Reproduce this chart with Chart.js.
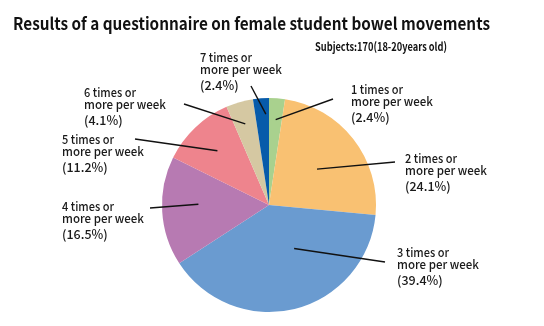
<!DOCTYPE html>
<html>
<head>
<meta charset="utf-8">
<script src="https://cdn.jsdelivr.net/npm/chart.js@4/dist/chart.umd.min.js"></script>
<style>
html,body{margin:0;padding:0;background:#fff;}
#wrap{width:544px;height:326px;position:relative;}
</style>
</head>
<body>
<div id="wrap"><canvas id="pie"></canvas></div>
<script>
// answer groups, clockwise from 12 o'clock
const categories = ['1 times or', '2 times or', '3 times or', '4 times or', '5 times or', '6 times or', '7 times or'];
const shares = [2.4, 24.1, 39.4, 16.5, 11.2, 4.1, 2.4];
const colors = ['#a9d18e', '#f9c172', '#6a9bd0', '#b77ab2', '#ee848d', '#d5c8a2', '#075baa'];

const titleText = 'Results of a questionnaire on female student bowel movements';
const subText = 'Subjects:170(18-20years old)';

// label block (left x, first line centre y)
const labelPos = [[351,89],[405,158],[397,252],[62,206],[62,139],[84,92],[200,57]];
// leader: inner end as [fraction across slice, fraction of radius], outer end in px
const leaderIn = [[0.52,0.80],[0.515,0.56],[0.386,0.47],[0.566,0.66],[0.5,0.70],[0.48,0.79],[0.77,0.85]];
const leaderOut = [[333,99],[395,162],[385,262],[150,208],[135,139],[184,104],[251,86]];

const FONT = '"Noto Sans CJK JP","Noto Sans",sans-serif';

// squeeze a line of text into a given width
function fitText(ctx, txt, x, y, w){
  const m = ctx.measureText(txt).width;
  if (m <= w) { ctx.fillText(txt, x, y); return; }
  ctx.fillText(txt, x, y, w);
}

const labelsPlugin = {
  id:'pieLabels',
  afterDraw(chart){
    const ctx = chart.ctx;
    const arcs = chart.getDatasetMeta(0).data;
    ctx.save();
    // titles
    ctx.fillStyle = '#111';
    ctx.textBaseline = 'middle';
    ctx.textAlign = 'left';
    ctx.font = 'bold 16.5px ' + FONT;
    fitText(ctx, titleText, 13, 24, 477);
    ctx.textAlign = 'right';
    ctx.font = 'bold 11.5px ' + FONT;
    fitText(ctx, subText, 447, 47, 132);

    // leader lines
    ctx.strokeStyle = '#111';
    ctx.lineWidth = 1.4;
    arcs.forEach((a, i) => {
      const p = a.getProps(['x','y','startAngle','endAngle','outerRadius'], true);
      const ang = p.startAngle + (p.endAngle - p.startAngle) * leaderIn[i][0];
      const r = p.outerRadius * leaderIn[i][1];
      ctx.beginPath();
      ctx.moveTo(p.x + r * Math.cos(ang), p.y + r * Math.sin(ang));
      ctx.lineTo(leaderOut[i][0], leaderOut[i][1]);
      ctx.stroke();
    });

    // label text
    ctx.textAlign = 'left';
    ctx.font = '500 12.5px ' + FONT;
    ctx.fillStyle = '#1a1a1a';
    categories.forEach((c, i) => {
      const [x, y] = labelPos[i];
      fitText(ctx, c, x, y, 52);
      fitText(ctx, 'more per week', x, y + 12.3, 82);
      ctx.fillText('(' + shares[i] + '%)', x, y + 28.6);
    });
    ctx.restore();
  }
};

new Chart(document.getElementById('pie'), {
  type:'pie',
  data:{
    labels:categories,
    datasets:[{data:shares, backgroundColor:colors, borderWidth:0}]
  },
  options:{
    responsive:true,
    maintainAspectRatio:false,
    animation:false,
    layout:{padding:{top:98, bottom:14, left:0, right:6}},
    plugins:{legend:{display:false}, tooltip:{enabled:false}, title:{display:false}}
  },
  plugins:[labelsPlugin]
});
</script>
</body>
</html>
